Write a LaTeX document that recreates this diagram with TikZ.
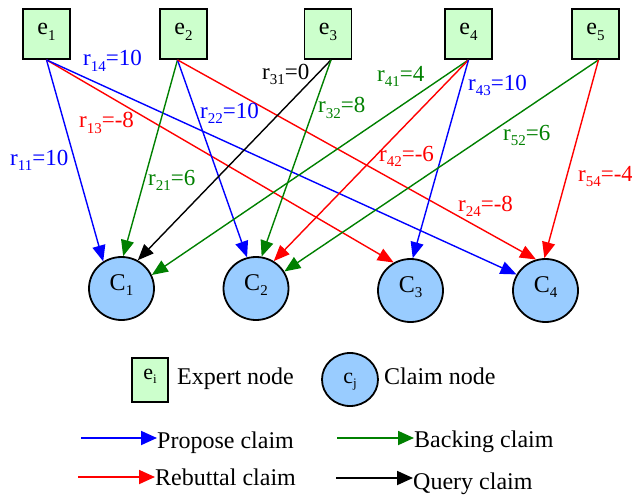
\documentclass[tikz,border=0pt]{standalone}
\usepackage{fontspec}
\setmainfont{Liberation Serif}
\usetikzlibrary{arrows.meta,shapes.geometric}
\definecolor{gfill}{HTML}{CCFFCC}
\definecolor{cfill}{HTML}{99CCFF}
\definecolor{pblue}{HTML}{0000FF}
\definecolor{rred}{HTML}{FF0000}
\definecolor{bgreen}{HTML}{008000}
\newcommand\lsub[1]{\raisebox{-0.22em}{\fontsize{15}{15}\selectfont #1}}
\newcommand\ssub[1]{\raisebox{-0.22em}{\fontsize{13}{13}\selectfont #1}}
\begin{document}
\begin{tikzpicture}[x=1pt,y=-1pt,
 expert/.style={draw=black, line width=1.8pt, fill=gfill, minimum width=47pt, minimum height=50pt,
   inner sep=0pt, text height=12pt, text depth=10pt, font=\fontsize{24}{24}\selectfont},
 claim/.style={ellipse, draw=black, line width=1.8pt, fill=cfill, minimum width=65pt, minimum height=63pt,
   inner sep=0pt, text height=13pt, text depth=10pt, font=\fontsize{24}{24}\selectfont},
 edge/.style={line width=1.4pt, -{Triangle[length=16pt,width=13pt]}},
 lbl/.style={anchor=base west, inner sep=0pt, font=\fontsize{23}{23}\selectfont},
 leg/.style={anchor=base west, inner sep=0pt, font=\fontsize{24}{24}\selectfont},
 legarrow/.style={line width=1.8pt, -{Triangle[length=16pt,width=14pt]}}
]
\useasboundingbox (0,0) rectangle (632,495);

% expert nodes
\node[expert] (e1) at (46.5,34) {e\lsub{1}};
\node[expert] (e2) at (183.5,34) {e\lsub{2}};
\node[expert] (e3) at (328,34) {e\lsub{3}};
\node[expert] (e4) at (468.5,34) {e\lsub{4}};
\node[expert] (e5) at (595.5,34) {e\lsub{5}};

% claim nodes
\node[claim] (C1) at (121.5,288.5) {C\lsub{1}};
\node[claim] (C2) at (256,288.5) {C\lsub{2}};
\node[claim] (C3) at (410.5,290.5) {C\lsub{3}};
\node[claim] (C4) at (545.5,290.5) {C\lsub{4}};

% edges
\draw[edge, pblue] (e1.south) -- (C1.124);
\draw[edge, rred] (e1.south) -- (C3.121);
\draw[edge, pblue] (e1.south) -- (C4.151);
\draw[edge, bgreen] ([xshift=-6pt]e2.south) -- (C1.87);
\draw[edge, pblue] ([xshift=-6pt]e2.south) -- (C2.106);
\draw[edge, rred] ([xshift=-6pt]e2.south) -- (C4.107);
\draw[edge, black] ([xshift=3pt]e3.south) -- (C1.60);
\draw[edge, bgreen] ([xshift=3pt]e3.south) -- (C2.80);
\draw[edge, bgreen] (e4.south) -- (C1.24);
\draw[edge, rred] (e4.south) -- (C2.57);
\draw[edge, pblue] (e4.south) -- (C3.86);
\draw[edge, bgreen] ([xshift=3pt]e5.south) -- (C2.31);
\draw[edge, rred] ([xshift=3pt]e5.south) -- (C4.92);

% edge labels
\node[lbl, pblue] (l14) at (83,66) {r\lsub{14}=10};
\node[lbl, rred] (l13) at (79,128) {r\lsub{13}=-8};
\node[lbl, pblue] (l11) at (10,165.5) {r\lsub{11}=10};
\node[lbl, pblue] (l22) at (200,118) {r\lsub{22}=10};
\node[lbl, bgreen] (l21) at (148,185) {r\lsub{21}=6};
\node[lbl, black] (l31) at (262,79) {r\lsub{31}=0};
\node[lbl, bgreen] (l32) at (318,113) {r\lsub{32}=8};
\node[lbl, bgreen] (l41) at (377,81.5) {r\lsub{41}=4};
\node[lbl, pblue] (l43) at (468,90) {r\lsub{43}=10};
\node[lbl, rred] (l42) at (379,161.5) {r\lsub{42}=-6};
\node[lbl, bgreen] (l52) at (503,140) {r\lsub{52}=6};
\node[lbl, rred] (l54) at (578,181.5) {r\lsub{54}=-4};
\node[lbl, rred] (l24) at (458,211.5) {r\lsub{24}=-8};

% legend nodes
\node[draw=black, line width=1.8pt, fill=gfill, minimum width=36pt, minimum height=44pt, inner sep=0pt,
  text height=9pt, text depth=11pt, font=\fontsize{22}{22}\selectfont] (le) at (150,380) {e\ssub{i}};
\node[leg] (let) at (177,384) {Expert node};
\node[ellipse, draw=black, line width=1.8pt, fill=cfill, minimum width=56pt, minimum height=53pt, inner sep=0pt,
  text height=15pt, text depth=8pt, font=\fontsize{22}{22}\selectfont] (lc) at (350,379.5) {c\ssub{j}};
\node[leg] (lct) at (384,384) {Claim node};

% legend arrows
\coordinate (pa) at (81,438);
\coordinate (pb) at (157,438);
\coordinate (ra) at (78,477);
\coordinate (rb) at (155,477);
\coordinate (ba) at (337,438);
\coordinate (bb) at (414,438);
\coordinate (qa) at (336,478);
\coordinate (qb) at (413,478);
\draw[legarrow, pblue] (pa) -- (pb);
\draw[legarrow, rred] (ra) -- (rb);
\draw[legarrow, bgreen] (ba) -- (bb);
\draw[legarrow, black] (qa) -- (qb);
\node[leg] (pt) at (157,448) {Propose claim};
\node[leg] (rt) at (155,485) {Rebuttal claim};
\node[leg] (bt) at (414,447) {Backing claim};
\node[leg] (qt) at (413,489) {Query claim};
\end{tikzpicture}
\end{document}
